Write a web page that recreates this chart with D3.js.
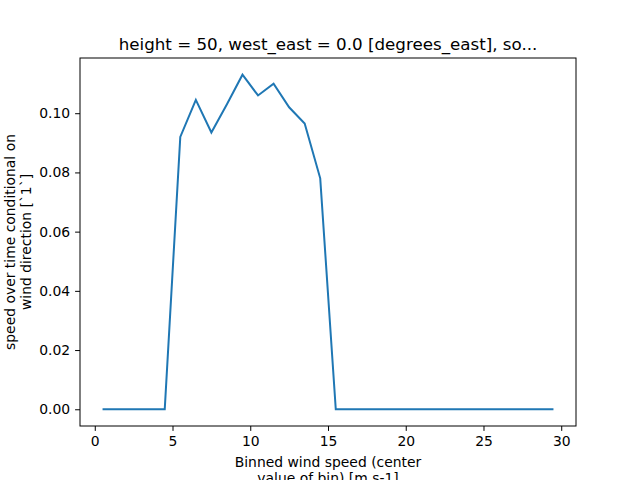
<!DOCTYPE html>
<html><head><meta charset="utf-8">
<script src="https://cdn.jsdelivr.net/npm/d3@7"></script>
<style>body{margin:0;background:#fff}</style></head>
<body><svg id="c" width="640" height="480"></svg>
<script>
const xs = d3.range(0.5, 30, 1);
const ys = [0,0,0,0,0,0.092,0.1045,0.0935,0.103,0.113,0.106,0.110,0.102,0.0965,0.078,0,0,0,0,0,0,0,0,0,0,0,0,0,0,0];
const xTicks = [0,5,10,15,20,25,30];
const yTicks = [0,0.02,0.04,0.06,0.08,0.10];
const data = xs.map((x,i)=>({x, y: ys[i]}));

const svg = d3.select("#c");
const L=80,R=576,T=58,B=426;
const x = d3.scaleLinear().domain([-0.95,30.95]).range([L,R]);
const ymax=d3.max(ys), pad=ymax*0.05;
const y = d3.scaleLinear().domain([-pad,ymax+pad]).range([B,T]);
const font="DejaVu Sans, sans-serif";

svg.append("path").datum(data)
  .attr("d", d3.line().x(d=>x(d.x)).y(d=>y(d.y)))
  .attr("fill","none").attr("stroke","#1f77b4").attr("stroke-width",2);

const gx = svg.append("g").attr("transform",`translate(0,${B})`)
  .call(d3.axisBottom(x).tickValues(xTicks).tickFormat(d3.format("d")).tickSize(4.9).tickPadding(4.9));
const gy = svg.append("g").attr("transform",`translate(${L},0)`)
  .call(d3.axisLeft(y).tickValues(yTicks).tickFormat(d3.format(".2f")).tickSize(4.9).tickPadding(4.9));
[gx,gy].forEach(g=>{g.selectAll("text").attr("font-size",13.9).attr("font-family",font).attr("fill","#000");
  g.selectAll("line").attr("stroke","#000"); g.select(".domain").remove();});
svg.append("rect").attr("x",L).attr("y",T).attr("width",R-L).attr("height",B-T)
  .attr("fill","none").attr("stroke","#000").attr("stroke-width",1);

svg.append("text").attr("x",(L+R)/2).attr("y",T-8).attr("text-anchor","middle")
  .attr("font-family",font).attr("font-size",16.7).text("height = 50, west_east = 0.0 [degrees_east], so...");
const xl = svg.append("text").attr("text-anchor","middle").attr("font-family",font).attr("font-size",13.9);
xl.append("tspan").attr("x",(L+R)/2).attr("y",467).text("Binned wind speed (center");
xl.append("tspan").attr("x",(L+R)/2).attr("y",483).text("value of bin) [m s-1]");
const yl = svg.append("text").attr("text-anchor","middle").attr("font-family",font).attr("font-size",13.9)
  .attr("transform",`translate(0,${(T+B)/2}) rotate(-90)`);
yl.append("tspan").attr("x",0).attr("y",15).text("speed over time conditional on");
yl.append("tspan").attr("x",0).attr("y",31).text("wind direction [`1`]");
</script></body></html>
